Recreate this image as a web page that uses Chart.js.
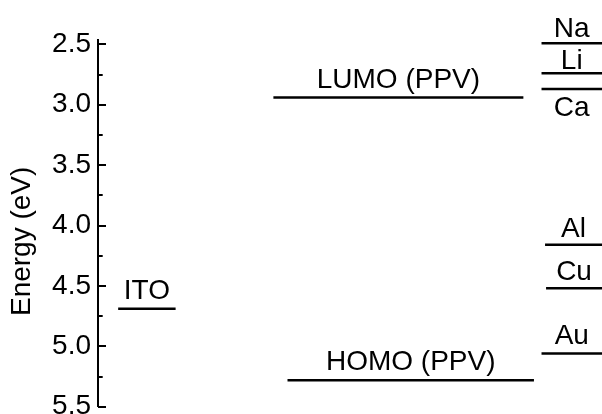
<!DOCTYPE html>
<html>
<head>
<meta charset="utf-8">
<script src="https://cdn.jsdelivr.net/npm/chart.js@4/dist/chart.umd.min.js"></script>
<style>
  html, body { margin: 0; padding: 0; background: #fff; }
  #wrap { width: 602px; height: 414px; position: relative; overflow: hidden; }
</style>
</head>
<body>
<div id="wrap"><canvas id="levels"></canvas></div>
<script>
// Energy levels (eV)
const levelNames = ['ITO', 'LUMO (PPV)', 'HOMO (PPV)', 'Na', 'Li', 'Ca', 'Al', 'Cu', 'Au'];
const levelEnergies = [4.69, 2.94, 5.28, 2.49, 2.74, 2.87, 4.16, 4.52, 5.06];
// horizontal extent of each level on the (hidden) x axis, 0..10
const levelStart = [0.40, 3.48, 3.76, 8.80, 8.80, 8.80, 8.87, 8.89, 8.80];
const levelEnd = [1.54, 8.44, 8.65, 10, 10, 10, 10, 10, 10];
const labelSide = ['above', 'above', 'above', 'above', 'above', 'below', 'above', 'above', 'above'];

const yTickValues = [2.5, 2.75, 3.0, 3.25, 3.5, 3.75, 4.0, 4.25, 4.5, 4.75, 5.0, 5.25, 5.5];
const yAxisTitle = 'Energy (eV)';

const FONT = '"Liberation Sans", Arial, sans-serif';
// gap between a level line and its label baseline (px)
const labelGap = [10, 9, 10, 6.5, 4, 27, 8.3, 8.3, 10];

function isMajor(v) {
  return Math.abs(v * 2 - Math.round(v * 2)) < 1e-6;
}

// inward tick marks, axis title and text labels over each level
const levelDecor = {
  id: 'levelDecor',
  afterDatasetsDraw(chart) {
    const ctx = chart.ctx;
    const xs = chart.scales.x;
    const ys = chart.scales.y;
    const area = chart.chartArea;

    ctx.save();
    ctx.strokeStyle = '#000';
    ctx.lineWidth = 2;
    ys.ticks.forEach(t => {
      const y = Math.round(ys.getPixelForValue(t.value));
      const len = isMajor(t.value) ? 8 : 4.7;
      ctx.beginPath();
      ctx.moveTo(area.left, y);
      ctx.lineTo(area.left + len, y);
      ctx.stroke();
    });

    ctx.fillStyle = '#000';
    ctx.font = '28px ' + FONT;
    ctx.textAlign = 'center';
    ctx.textBaseline = 'alphabetic';
    levelNames.forEach((name, i) => {
      const x = (xs.getPixelForValue(levelStart[i]) + xs.getPixelForValue(levelEnd[i])) / 2;
      const y = ys.getPixelForValue(levelEnergies[i]);
      const ty = labelSide[i] === 'below' ? y + labelGap[i] : y - labelGap[i];
      ctx.fillText(name, x, ty);
    });

    // axis title, rotated
    ctx.translate(ys.left + 22.5, (area.top + area.bottom) / 2 + 18);
    ctx.rotate(-Math.PI / 2);
    ctx.textBaseline = 'middle';
    ctx.fillText(yAxisTitle, 0, 0);
    ctx.restore();
  }
};

const datasets = levelNames.map((name, i) => ({
  label: name,
  data: [
    { x: levelStart[i], y: levelEnergies[i] },
    { x: levelEnd[i], y: levelEnergies[i] }
  ],
  borderColor: '#000',
  borderWidth: 2.5,
  borderCapStyle: 'butt',
  pointRadius: 0,
  fill: false,
  clip: false
}));

new Chart(document.getElementById('levels'), {
  type: 'line',
  data: { datasets: datasets },
  options: {
    responsive: true,
    maintainAspectRatio: false,
    animation: false,
    devicePixelRatio: 1,
    layout: { padding: { top: 40, bottom: 7.3, left: 0, right: 0 } },
    plugins: {
      legend: { display: false },
      tooltip: { enabled: false }
    },
    scales: {
      x: {
        type: 'linear',
        min: 0,
        max: 10,
        display: false
      },
      y: {
        type: 'linear',
        reverse: true,
        min: 2.464,
        max: 5.5,
        afterBuildTicks: scale => {
          scale.ticks = yTickValues.map(v => ({ value: v }));
        },
        afterFit: scale => {
          scale.width = 98;
          scale.paddingTop = 0;
          scale.paddingBottom = 0;
        },
        grid: { display: false, drawTicks: false },
        border: { display: true, color: '#000', width: 2 },
        ticks: {
          autoSkip: false,
          padding: 7,
          color: '#000',
          font: { family: FONT, size: 28 },
          callback: v => isMajor(v) ? v.toFixed(1) : ''
        },
        title: { display: false }
      }
    }
  },
  plugins: [levelDecor]
});
</script>
</body>
</html>
